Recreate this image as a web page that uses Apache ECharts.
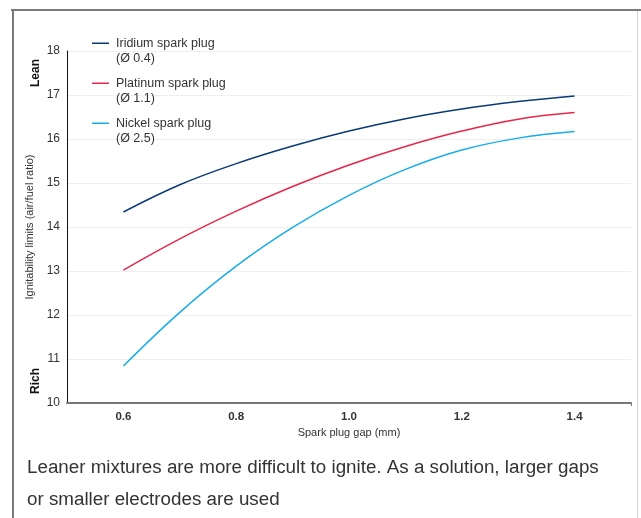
<!DOCTYPE html>
<html>
<head>
<meta charset="utf-8">
<script src="https://cdn.jsdelivr.net/npm/echarts@6/dist/echarts.min.js"></script>
<style>
html,body{margin:0;padding:0;background:#fff;}
#c{width:641px;height:518px;}
</style>
</head>
<body>
<div id="c"></div>
<script>
const gaps = [0.6, 0.7, 0.8, 0.9, 1.0, 1.1, 1.2, 1.3, 1.4];
const iridium = [14.34, 14.96, 15.44, 15.84, 16.18, 16.46, 16.68, 16.85, 16.98];
const platinum = [13.02, 13.73, 14.36, 14.92, 15.41, 15.83, 16.18, 16.45, 16.60];
const nickel = [10.84, 12.06, 13.11, 13.99, 14.72, 15.31, 15.75, 16.02, 16.17];
const seriesNames = ['Iridium spark plug', 'Platinum spark plug', 'Nickel spark plug'];
const seriesSub = ['(Ø 0.4)', '(Ø 1.1)', '(Ø 2.5)'];
const xTickLabels = [0.6, 0.8, 1.0, 1.2, 1.4];
const yTickLabels = [10, 11, 12, 13, 14, 15, 16, 17, 18];
const caption = 'Leaner mixtures are more difficult to ignite. As a solution, larger gaps\nor smaller electrodes are used';

const colors = ['#0b3a77', '#e8264a', '#16ade9'];
const values = [iridium, platinum, nickel];
const FONT = '"Liberation Sans", Arial, Helvetica, sans-serif';

const chart = echarts.init(document.getElementById('c'));
const legendTops = [20, 60, 100];
chart.setOption({
  animation: false,
  textStyle: { fontFamily: FONT },
  grid: { left: 67, right: 10, top: 51, bottom: 115 },
  legend: seriesNames.map((n, i) => ({
    data: [n],
    left: 92,
    top: legendTops[i],
    orient: 'vertical',
    icon: 'rect',
    itemWidth: 17,
    itemHeight: 1.5,
    itemGap: 0,
    padding: 0,
    selectedMode: false,
    formatter: (name) => '\n' + name + '\n' + seriesSub[i],
    textStyle: { fontSize: 12.5, color: '#333', lineHeight: 15.5, padding: [0, 0, 0, 2], fontFamily: FONT }
  })),
  xAxis: {
    type: 'value',
    min: 0.5,
    max: 1.5,
    name: 'Spark plug gap (mm)',
    nameLocation: 'middle',
    nameGap: 18,
    nameTextStyle: { fontSize: 11, color: '#333', fontFamily: FONT },
    axisLine: { show: true, lineStyle: { color: '#777', width: 2 } },
    axisTick: { show: true, customValues: [1.5], length: 3, lineStyle: { color: '#777' } },
    axisLabel: {
      customValues: xTickLabels,
      formatter: (v) => Number(v).toFixed(1),
      fontWeight: 'bold', fontSize: 11.5, color: '#333', margin: 8, fontFamily: FONT
    },
    splitLine: { show: false }
  },
  yAxis: {
    type: 'value',
    min: yTickLabels[0],
    max: yTickLabels[yTickLabels.length - 1],
    interval: 1,
    name: 'Ignitability limits (air/fuel ratio)',
    nameLocation: 'middle',
    nameGap: 29,
    nameTextStyle: { fontSize: 11, color: '#333', fontFamily: FONT },
    axisLine: { show: true, lineStyle: { color: '#111', width: 1 } },
    axisTick: { show: false },
    axisLabel: { fontSize: 12, color: '#333', margin: 7, fontFamily: FONT },
    splitLine: { show: true, lineStyle: { color: '#efefef', width: 1 } }
  },
  series: seriesNames.map((n, i) => ({
    name: n,
    type: 'line',
    smooth: 0.4,
    symbol: 'none',
    color: colors[i],
    lineStyle: { width: 1.5, color: colors[i] },
    data: gaps.map((g, j) => [g, values[i][j]])
  })),
  graphic: [
    { type: 'line', shape: { x1: 11, y1: 10, x2: 641, y2: 10 }, style: { stroke: '#7a7a7a', lineWidth: 2 }, silent: true },
    { type: 'line', shape: { x1: 13, y1: 9, x2: 13, y2: 518 }, style: { stroke: '#7a7a7a', lineWidth: 2 }, silent: true },
    { type: 'line', shape: { x1: 637.5, y1: 11, x2: 637.5, y2: 518 }, style: { stroke: '#d4d4d4', lineWidth: 1 }, silent: true },
    { type: 'text', x: 36, y: 73, rotation: Math.PI / 2, style: { text: 'Lean', font: 'bold 12px ' + FONT, fill: '#111', textAlign: 'center', textVerticalAlign: 'middle' }, silent: true },
    { type: 'text', x: 36, y: 381, rotation: Math.PI / 2, style: { text: 'Rich', font: 'bold 12px ' + FONT, fill: '#111', textAlign: 'center', textVerticalAlign: 'middle' }, silent: true },
    { type: 'text', left: 27, top: 452, style: { text: caption, font: '18.8px ' + FONT, fill: '#333', lineHeight: 32 }, silent: true }
  ]
});
</script>
</body>
</html>
